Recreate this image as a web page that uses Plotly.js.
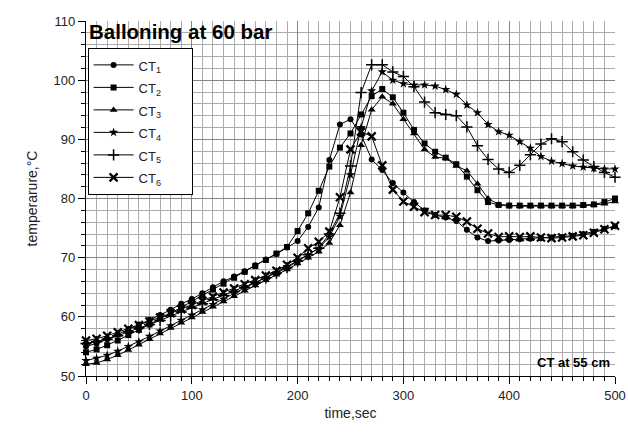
<!DOCTYPE html>
<html>
<head>
<meta charset="utf-8">
<script src="https://cdn.plot.ly/plotly-3.0.1.min.js"></script>
<style>html,body{margin:0;padding:0;background:#fff;}#chart{width:628px;height:441px;}</style>
</head>
<body>
<div id="chart"></div>
<script>
var time = [0,10,20,30,40,50,60,70,80,90,100,110,120,130,140,150,160,170,180,190,200,210,220,230,240,250,260,270,280,290,300,310,320,330,340,350,360,370,380,390,400,410,420,430,440,450,460,470,480,490,500];

var ct1 = [55,55.5,56.2,57,57.8,58.7,59.5,60.3,61.2,62.2,63,64,65,66,66.8,67.7,68.7,69.7,70.6,71.7,72.8,75.2,78.5,86.5,92.5,93.4,90.8,86.6,84.8,82.6,81,79.4,78,77.2,76.8,76.2,74.7,73.4,72.8,72.9,73,73.1,73.2,73.3,73.4,73.5,73.7,74,74.4,74.9,75.3];
var ct2 = [54,54.5,55.2,56,56.9,57.8,58.7,59.7,60.6,61.6,62.6,63.6,64.6,65.6,66.6,67.6,68.6,69.6,70.7,71.8,74.5,77.5,81.3,85.4,88.6,91,94.2,97.3,98.5,97.1,94.5,91.6,89.3,87.9,86.9,85.8,83.7,81.4,79.4,78.9,78.8,78.8,78.8,78.8,78.8,78.8,78.8,78.9,79,79.4,80];
var ct3 = [52,52.2,52.8,53.5,54.4,55.3,56.2,57.2,58.1,59,59.9,60.8,61.7,62.6,63.5,64.4,65.3,66.2,67.1,68,69,70,71,72.5,75.5,81,89,95,97.2,96,93.4,91,88.3,87,86.8,85.5,84.7,82.5,80,79,78.8,78.7,78.7,78.7,78.7,78.7,78.7,78.8,78.9,79.1,79.5];
var ct4 = [52.6,53,53.5,54.2,55,55.8,56.7,57.6,58.5,59.4,60.3,61.2,62.1,63,63.9,64.8,65.7,66.6,67.5,68.5,69.5,70.5,71.6,73.5,77,84,92,98.2,101.4,100,99.4,99.2,99.2,99,98.4,97.6,95.8,94.5,92.5,91.3,90.7,89.6,88.5,87.1,86.3,85.9,85.5,85.3,85.1,85,85];
var ct5 = [55.5,55.8,56.2,56.8,57.5,58.1,58.7,59.4,60.1,60.8,61.5,62.2,62.9,63.6,64.3,65,65.8,66.6,67.4,68.3,69.4,70.5,71.6,74,77.5,85.5,97.9,102.6,102.6,101.4,100.6,98.9,96.3,94.5,94.2,94,92.1,88.9,86.6,85,84.4,85.6,87.4,89.2,90.1,89.6,87.9,86.5,85.4,84.4,83.6];
var ct6 = [56,56.3,56.8,57.4,58,58.6,59.2,59.9,60.6,61.3,62,62.7,63.4,64.1,64.8,65.5,66.2,67,67.8,68.8,70,71.6,72.7,74.4,80.2,88.3,91.3,90.5,85.6,81.5,79.5,78.6,77.7,77.2,77.2,76.9,76.1,74.9,74.1,73.5,73.6,73.5,73.6,73.4,73.3,73.4,73.6,73.8,74.2,74.8,75.4];

var names = ['CT<sub>1</sub>','CT<sub>2</sub>','CT<sub>3</sub>','CT<sub>4</sub>','CT<sub>5</sub>','CT<sub>6</sub>'];
var series = [ct1, ct2, ct3, ct4, ct5, ct6];
var markers = [
  {symbol:'circle', size:6, color:'#000'},
  {symbol:'square', size:6, color:'#000'},
  {symbol:'triangle-up', size:7, color:'#000'},
  {symbol:'star', size:7, color:'#000'},
  {symbol:'cross-thin-open', size:8, color:'#000', line:{color:'#000', width:1.5}},
  {symbol:'x-thin-open', size:8, color:'#000', line:{color:'#000', width:2.2}}
];

var traces = series.map(function(s, i){
  return {
    x: time, y: s,
    name: '<span style="font-size:13px">' + names[i] + '</span>&nbsp;&nbsp;&nbsp;&nbsp;&nbsp;&nbsp;',
    type:'scatter', mode:'lines+markers',
    line:{color:'#000', width:1}, marker: markers[i], cliponaxis:false
  };
});

var gridMinor = '#ababab';
var gridMajor = '#858585';
var layout = {
  width:628, height:441,
  margin:{l:85.5, r:12.5, t:20.5, b:65},
  paper_bgcolor:'#fff', plot_bgcolor:'#fff',
  font:{family:'Liberation Sans, Arial, sans-serif', color:'#222', size:13},
  showlegend:true,
  legend:{x:0.003, y:0.925, xanchor:'left', yanchor:'top', bgcolor:'#fff',
          bordercolor:'#000', borderwidth:1, font:{size:15, color:'#222'},
          tracegroupgap:0, itemwidth:40},
  xaxis:{range:[0,500], dtick:100, tick0:0, showgrid:true, gridcolor:gridMajor, gridwidth:1,
         showline:true, linecolor:'#000', linewidth:1.2, ticks:'outside', ticklen:7, tickcolor:'#000',
         zeroline:false, tickfont:{size:13, color:'#222'},
         minor:{dtick:10, showgrid:true, gridcolor:gridMinor, gridwidth:1, ticks:'outside', ticklen:4, tickcolor:'#000'},
         title:{text:'time,sec', font:{size:14, color:'#222'}, standoff:6}},
  yaxis:{range:[50,110], dtick:10, tick0:50, showgrid:true, gridcolor:gridMajor, gridwidth:1,
         showline:true, linecolor:'#000', linewidth:1.2, ticks:'outside', ticklen:7, tickcolor:'#000',
         zeroline:false, tickfont:{size:13, color:'#222'},
         minor:{dtick:2, showgrid:true, gridcolor:gridMinor, gridwidth:1, ticks:'outside', ticklen:4, tickcolor:'#000'},
         title:{text:'temperarure,°C', font:{size:14, color:'#222'}, standoff:12}},
  annotations:[
    {text:'<b>Balloning at 60 bar</b>', xref:'paper', yref:'paper', x:0.002, y:1.008, xanchor:'left', yanchor:'top',
     showarrow:false, font:{size:20.5, color:'#000'}},
    {text:'<b>CT at 55 cm</b>', xref:'paper', yref:'paper', x:0.995, y:0.01, xanchor:'right', yanchor:'bottom',
     showarrow:false, font:{size:13, color:'#000'}}
  ]
};

Plotly.newPlot('chart', traces, layout, {staticPlot:true, displayModeBar:false});
</script>
</body>
</html>
